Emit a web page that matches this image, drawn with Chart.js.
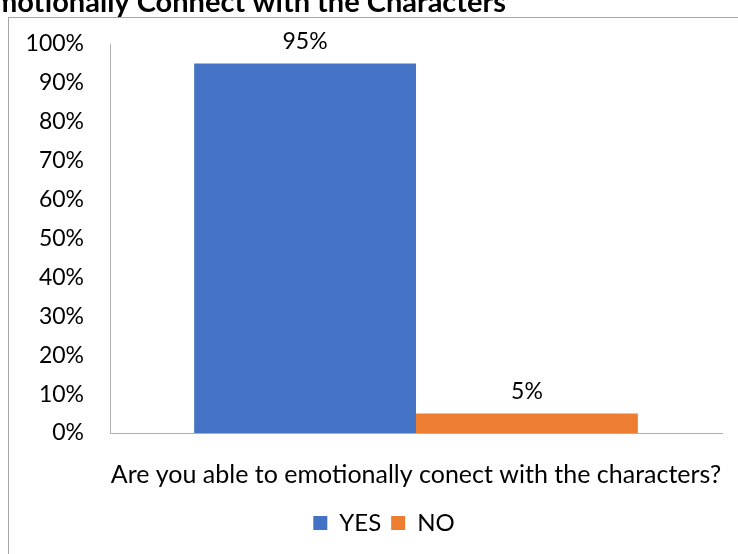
<!DOCTYPE html>
<html>
<head>
<meta charset="utf-8">
<script src="https://cdn.jsdelivr.net/npm/chart.js@4"></script>
<style>
  body { margin: 0; background: #fff; }
  #wrap { width: 738px; height: 554px; position: relative; overflow: hidden; }
</style>
</head>
<body>
<div id="wrap"><canvas id="chart" width="738" height="554"></canvas></div>
<script>
const categories = ['Are you able to emotionally conect with the characters?'];
const seriesNames = ['YES', 'NO'];
const yesValues = [95];
const noValues = [5];
const colors = ['#4472C4', '#ED7D31'];
const titleText = 'Emotionally Connect with the Characters';
const FONT = 'Lato, "Liberation Sans", sans-serif';

// frame + partly cropped title
const frame = {
  id: 'frame',
  beforeDraw(chart) {
    const ctx = chart.ctx;
    ctx.save();
    ctx.strokeStyle = '#a6a6a6';
    ctx.lineWidth = 1;
    ctx.strokeRect(8.5, 17.5, 900, 700);
    ctx.fillStyle = '#000';
    ctx.font = 'bold 29px ' + FONT;
    ctx.textAlign = 'right';
    ctx.textBaseline = 'alphabetic';
    ctx.fillText(titleText, 506, 12);
    ctx.restore();
  },
  // the original frame runs past the right edge, so the legend sits right of centre
  afterLayout(chart) {
    chart.legend.left += 23;
    chart.legend.right += 23;
  }
};

// value labels above bars
const valueLabels = {
  id: 'valueLabels',
  afterDatasetsDraw(chart) {
    const ctx = chart.ctx;
    ctx.save();
    ctx.fillStyle = '#000';
    ctx.font = '23px ' + FONT;
    ctx.textAlign = 'center';
    ctx.textBaseline = 'middle';
    chart.data.datasets.forEach((ds, i) => {
      chart.getDatasetMeta(i).data.forEach((bar, j) => {
        ctx.fillText(ds.data[j] + '%', bar.x, bar.y - 22);
      });
    });
    ctx.restore();
  }
};

new Chart(document.getElementById('chart'), {
  type: 'bar',
  data: {
    labels: categories,
    datasets: [
      { label: seriesNames[0], data: yesValues, backgroundColor: colors[0] },
      { label: seriesNames[1], data: noValues, backgroundColor: colors[1] }
    ]
  },
  options: {
    responsive: false,
    animation: false,
    datasets: { bar: { categoryPercentage: 0.725, barPercentage: 1 } },
    layout: { padding: { top: 44, right: 16, bottom: 9, left: 0 } },
    plugins: {
      title: { display: false },
      tooltip: { enabled: false },
      legend: {
        position: 'bottom',
        labels: {
          color: '#000',
          font: { family: FONT, size: 24 },
          boxWidth: 14,
          boxHeight: 14,
          padding: 10
        }
      }
    },
    scales: {
      x: {
        grid: { display: false, drawTicks: false },
        border: { color: '#b0b0b0' },
        ticks: { color: '#000', font: { family: FONT, size: 25 }, padding: 27, maxRotation: 0 },
        afterFit(s) { s.height = 68; s.paddingLeft = 0; s.paddingRight = 0; }
      },
      y: {
        min: 0,
        max: 100,
        grid: { display: false, drawTicks: false },
        border: { color: '#b0b0b0' },
        ticks: {
          stepSize: 10,
          color: '#000',
          font: { family: FONT, size: 23 },
          padding: 26,
          callback: v => v + '%'
        },
        afterFit(s) { s.width = 110; }
      }
    }
  },
  plugins: [frame, valueLabels]
});
</script>
</body>
</html>
